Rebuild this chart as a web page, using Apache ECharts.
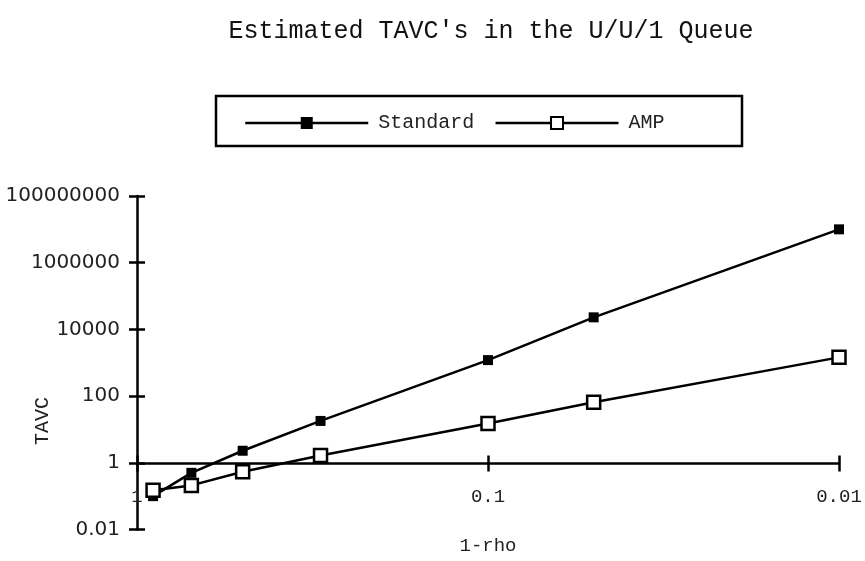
<!DOCTYPE html>
<html>
<head>
<meta charset="utf-8">
<script src="https://cdn.jsdelivr.net/npm/echarts@6/dist/echarts.min.js"></script>
<style>html,body{margin:0;padding:0;background:#fff}#c{width:865px;height:561px}</style>
</head>
<body>
<div id="c"></div>
<script>
var oneMinusRho = [0.9, 0.7, 0.5, 0.3, 0.1, 0.05, 0.01];
var standardTAVC = [0.1, 0.5, 2.3, 18, 1200, 23000, 1.0e7];
var ampTAVC = [0.15, 0.21, 0.54, 1.65, 15, 65, 1450];
var yTickLabels = ['0.01', '1', '100', '10000', '1000000', '100000000'];
var xTickLabels = ['1', '0.1', '0.01'];

var mono = 'Liberation Mono';
function pairs(xs, ys) { return xs.map(function (x, i) { return [x, ys[i]]; }); }
function yFmt(v) { var e = Math.round(Math.log10(v)); return (e % 2 === 0) ? (yTickLabels[(e + 2) / 2] || '') : ''; }
function xFmt(v) { var e = Math.round(-Math.log10(v)); return xTickLabels[e] || ''; }

var chart = echarts.init(document.getElementById('c'), null, {renderer: 'canvas'});
var xBase = {type: 'log', logBase: 10, inverse: true, min: 0.01, max: 1, position: 'bottom', offset: -66,
  splitLine: {show: false}, minorTick: {show: false}};
var yBase = {type: 'log', logBase: 10, min: 0.01, max: 1e8, interval: 2, position: 'left',
  splitLine: {show: false}, minorTick: {show: false}};
chart.setOption({
  animation: false,
  backgroundColor: '#fff',
  title: {text: "Estimated TAVC's in the U/U/1 Queue", left: 486, top: 14, textAlign: 'center',
    textStyle: {fontFamily: mono, fontSize: 25, fontWeight: 'normal', color: '#111'}},
  legend: {left: 239, top: 108, itemWidth: 123, itemHeight: 15, itemGap: 20,
    lineStyle: {width: 2.5, color: '#000'},
    textStyle: {fontFamily: mono, fontSize: 20, color: '#222', padding: [0, 0, 0, 5]},
    data: ['Standard', 'AMP']},
  graphic: [
    {type: 'rect', shape: {x: 216, y: 96, width: 526, height: 50}, style: {fill: 'none', stroke: '#000', lineWidth: 2.5}, z: 10},
    {type: 'text', x: 43, y: 421, rotation: Math.PI / 2,
      style: {text: 'TAVC', fontFamily: mono, fontSize: 20, fill: '#222', align: 'center', verticalAlign: 'middle'}}
  ],
  grid: {left: 137, right: 26, top: 196, bottom: 31.5, containLabel: false},
  xAxis: [
    Object.assign({}, xBase, {
      name: '1-rho', nameLocation: 'middle', nameGap: 73,
      nameTextStyle: {fontFamily: mono, fontSize: 19, color: '#222'},
      axisLine: {show: true, lineStyle: {color: '#000', width: 2.5}},
      axisTick: {show: true, inside: false, length: 8, lineStyle: {color: '#000', width: 2.5}},
      axisLabel: {formatter: xFmt, margin: 24, fontFamily: mono, fontSize: 19, color: '#222'}
    }),
    Object.assign({}, xBase, {
      axisLine: {show: false},
      axisTick: {show: true, inside: true, length: 8, lineStyle: {color: '#000', width: 2.5}},
      axisLabel: {show: false}
    })
  ],
  yAxis: [
    Object.assign({}, yBase, {
      axisLine: {show: true, lineStyle: {color: '#000', width: 2.5}},
      axisTick: {show: true, inside: false, length: 8, lineStyle: {color: '#000', width: 2.5}},
      axisLabel: {formatter: yFmt, margin: 17, fontFamily: 'DejaVu Sans', fontSize: 20, color: '#222'}
    }),
    Object.assign({}, yBase, {
      axisLine: {show: false},
      axisTick: {show: true, inside: true, length: 8, lineStyle: {color: '#000', width: 2.5}},
      axisLabel: {show: false}
    })
  ],
  series: [
    {name: 'Standard', type: 'line', data: pairs(oneMinusRho, standardTAVC),
      symbol: 'rect', symbolSize: 10, showAllSymbol: true,
      lineStyle: {color: '#000', width: 2.5}, itemStyle: {color: '#000', borderColor: '#000', borderWidth: 0}},
    {name: 'AMP', type: 'line', data: pairs(oneMinusRho, ampTAVC),
      symbol: 'rect', symbolSize: 13, showAllSymbol: true,
      lineStyle: {color: '#000', width: 2.5}, itemStyle: {color: '#fff', borderColor: '#000', borderWidth: 2.5}}
  ]
});
</script>
</body>
</html>
